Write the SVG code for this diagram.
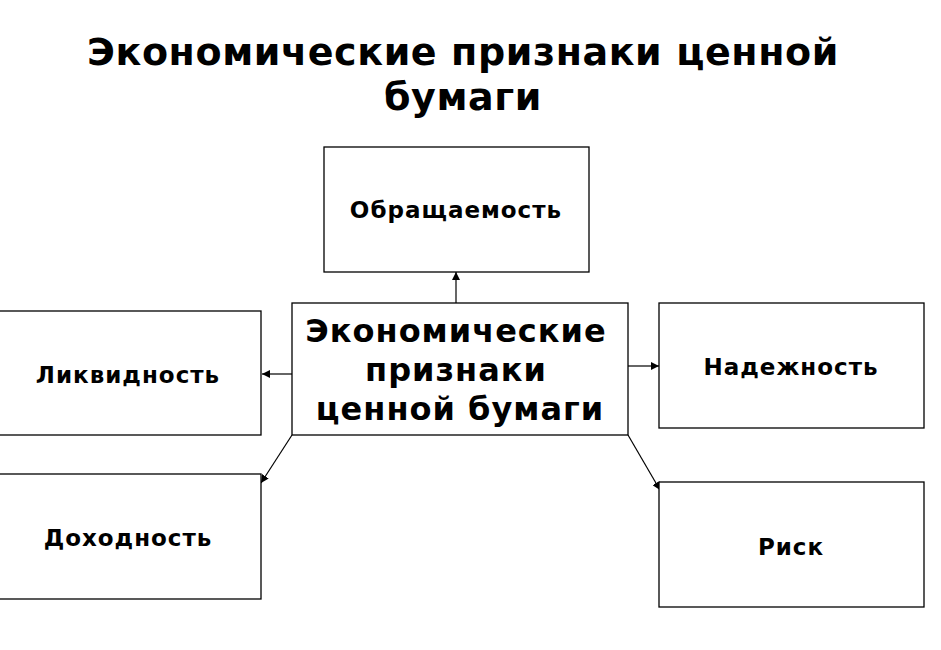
<svg xmlns="http://www.w3.org/2000/svg" width="941" height="650" viewBox="0 0 941 650">
<defs>
<style>
.box{fill:#fff;stroke:#000;stroke-width:1.3}
.t{font-family:"DejaVu Sans","Verdana",sans-serif;font-weight:bold;fill:#000;text-anchor:middle}
.lbl{font-size:23px;letter-spacing:1px}
.big{font-size:32px;letter-spacing:1px}
.title{font-size:38px;letter-spacing:0.6px}
.con{stroke:#000;stroke-width:1.2;fill:none;marker-end:url(#ah)}
</style>
<marker id="ah" viewBox="0 0 10 10" refX="10" refY="5" markerWidth="8" markerHeight="8" markerUnits="userSpaceOnUse" orient="auto">
<path d="M0,0 L10,5 L0,10 z" fill="#000"/>
</marker>
</defs>
<rect width="941" height="650" fill="#fff"/>
<g id="title">
<text class="t title" x="463" y="65">Экономические признаки ценной</text>
<text class="t title" x="463" y="110">бумаги</text>
</g>
<g id="connectors">
<line class="con" x1="456" y1="303" x2="456" y2="272"/>
<line class="con" x1="292" y1="374" x2="262" y2="374"/>
<line class="con" x1="628" y1="366" x2="659" y2="366"/>
<line class="con" x1="292" y1="435" x2="261" y2="483"/>
<line class="con" x1="628" y1="435" x2="660" y2="490"/>
</g>
<g id="center">
<rect class="box" x="292" y="303" width="336" height="132"/>
<text class="t big" x="456" y="342">Экономические</text>
<text class="t big" x="456" y="381">признаки</text>
<text class="t big" x="460" y="420">ценной бумаги</text>
</g>
<g id="obrashchaemost">
<rect class="box" x="324" y="147" width="265" height="125"/>
<text class="t lbl" x="456" y="218">Обращаемость</text>
</g>
<g id="likvidnost">
<rect class="box" x="-2" y="311" width="263" height="124"/>
<text class="t lbl" x="128" y="383">Ликвидность</text>
</g>
<g id="nadezhnost">
<rect class="box" x="659" y="303" width="265" height="125"/>
<text class="t lbl" x="791" y="375">Надежность</text>
</g>
<g id="dokhodnost">
<rect class="box" x="-2" y="474" width="263" height="125"/>
<text class="t lbl" x="128" y="546">Доходность</text>
</g>
<g id="risk">
<rect class="box" x="659" y="482" width="265" height="125"/>
<text class="t lbl" x="791" y="555">Риск</text>
</g>
</svg>
